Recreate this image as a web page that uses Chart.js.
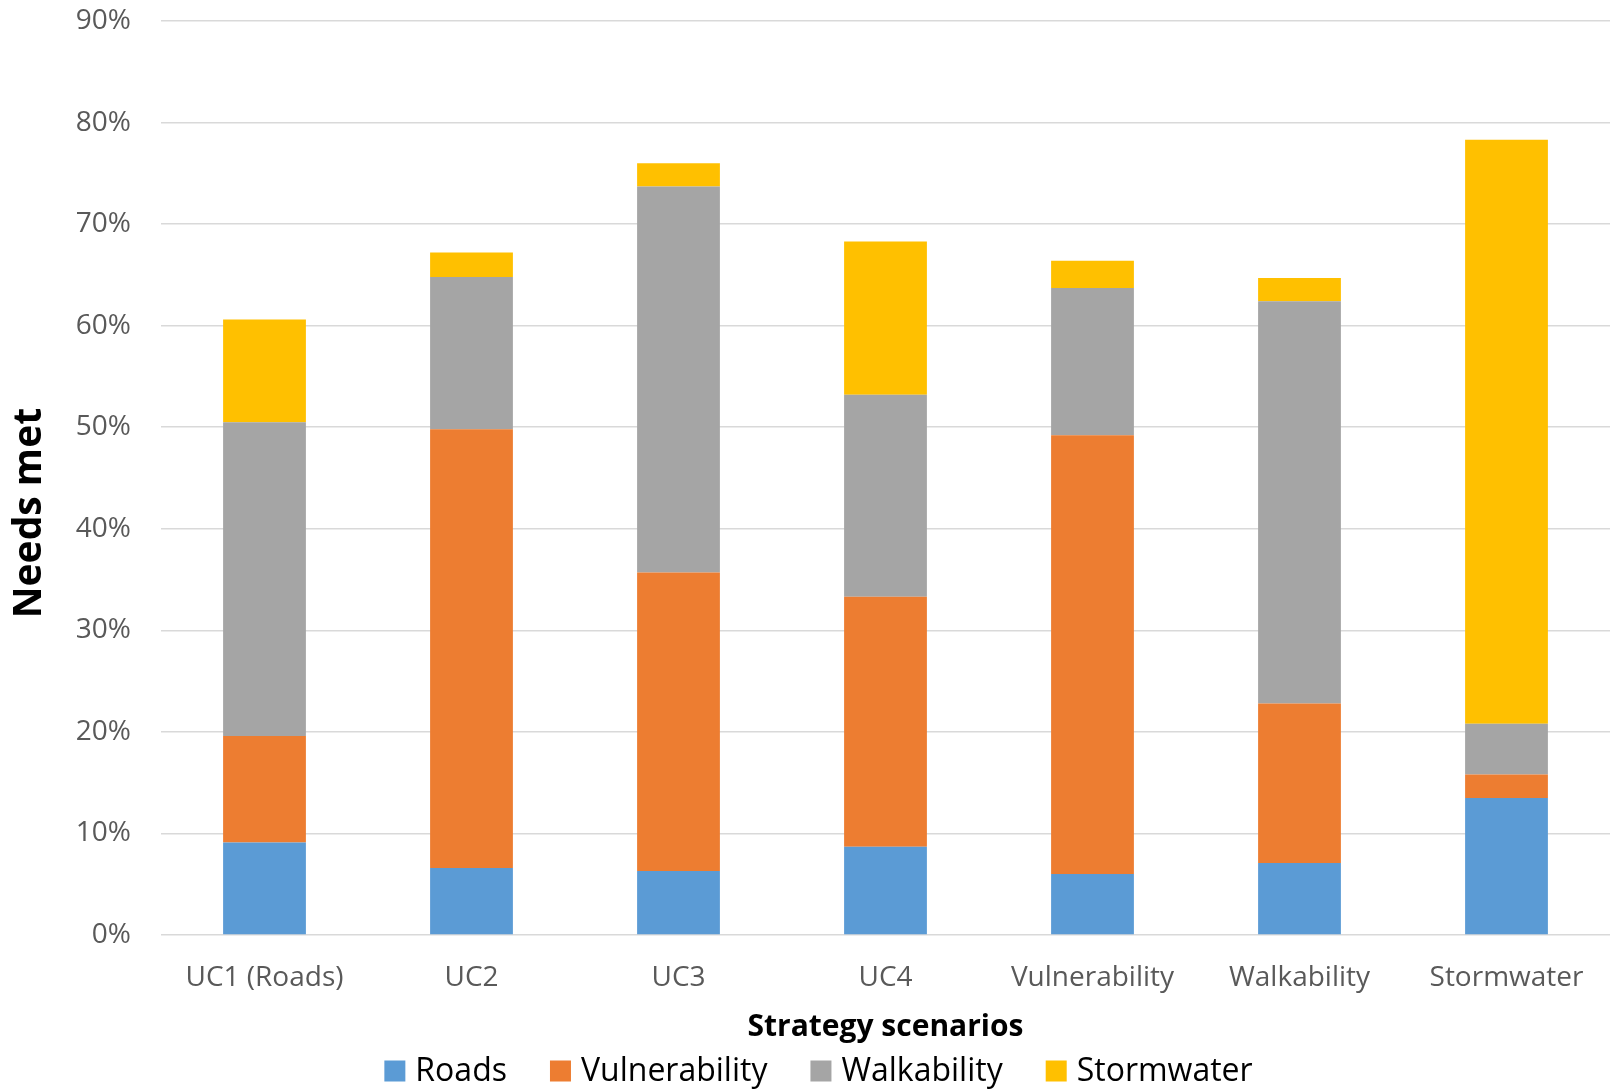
<!DOCTYPE html>
<html>
<head>
<meta charset="utf-8">
<title>Needs met by strategy scenario</title>
<script src="https://cdn.jsdelivr.net/npm/chart.js@4.4.1/dist/chart.umd.min.js"></script>
<style>
  html, body { margin: 0; padding: 0; background: #ffffff; }
  #wrap { width: 1610px; height: 1089px; position: relative; }
  canvas { display: block; }
</style>
</head>
<body>
<div id="wrap"><canvas id="chart" width="1610" height="1089"></canvas></div>
<script>
// Strategy scenarios on the category axis
const scenarios = ['UC1 (Roads)', 'UC2', 'UC3', 'UC4', 'Vulnerability', 'Walkability', 'Stormwater'];

// Share of needs met (%) per need, stacked per scenario
const roads         = [9.1,  6.6,  6.3,  8.7,  6.0,  7.1, 13.5];
const vulnerability = [10.5, 43.2, 29.4, 24.6, 43.2, 15.7, 2.3];
const walkability   = [30.9, 15.0, 38.0, 19.9, 14.5, 39.6, 5.0];
const stormwater    = [10.1, 2.4,  2.3,  15.1, 2.7,  2.3, 57.5];

// Value axis ticks (%)
const yTicks = [0, 10, 20, 30, 40, 50, 60, 70, 80, 90];

const FONT = '"Open Sans", "Noto Sans", sans-serif';
const TICK_COLOR = '#595959';
const GRID_COLOR = '#D9D9D9';

// Axis titles drawn on the canvas
const axisTitles = {
  id: 'axisTitles',
  afterDraw(chart) {
    const ctx = chart.ctx;
    const area = chart.chartArea;
    ctx.save();
    ctx.fillStyle = '#000000';
    ctx.textAlign = 'center';
    ctx.textBaseline = 'middle';
    // value axis title
    ctx.font = 'bold 39px ' + FONT;
    ctx.translate(30, 513);
    ctx.rotate(-Math.PI / 2);
    ctx.fillText('Needs met', 0, 0);
    ctx.setTransform(1, 0, 0, 1, 0, 0);
    // category axis title
    ctx.font = 'bold 30px ' + FONT;
    ctx.fillText('Strategy scenarios', (area.left + area.right) / 2, 1027);
    ctx.restore();
  }
};

// Legend row under the axis title: square swatch + series name
const seriesLegend = {
  id: 'seriesLegend',
  afterDraw(chart) {
    const ctx = chart.ctx;
    const box = 21, textGap = 10, itemGap = 43, yMid = 1071;
    ctx.save();
    ctx.font = '32px ' + FONT;
    ctx.textBaseline = 'middle';
    ctx.textAlign = 'left';
    const items = chart.data.datasets.map(d => ({
      text: d.label,
      color: d.backgroundColor,
      w: ctx.measureText(d.label).width
    }));
    const total = items.reduce((s, it) => s + box + textGap + it.w, 0) + itemGap * (items.length - 1);
    let x = 818.5 - total / 2;
    items.forEach(it => {
      ctx.fillStyle = it.color;
      ctx.fillRect(x, yMid - box / 2, box, box);
      x += box + textGap;
      ctx.fillStyle = '#000000';
      ctx.fillText(it.text, x, yMid + 1);
      x += it.w + itemGap;
    });
    ctx.restore();
  }
};

const ctx = document.getElementById('chart').getContext('2d');
new Chart(ctx, {
  type: 'bar',
  data: {
    labels: scenarios,
    datasets: [
      { label: 'Roads',         data: roads,         backgroundColor: '#5B9BD5' },
      { label: 'Vulnerability', data: vulnerability, backgroundColor: '#ED7D31' },
      { label: 'Walkability',   data: walkability,   backgroundColor: '#A5A5A5' },
      { label: 'Stormwater',    data: stormwater,    backgroundColor: '#FFC000' }
    ]
  },
  options: {
    responsive: false,
    animation: false,
    devicePixelRatio: 1,
    layout: { padding: { top: 21, left: 0, right: 0, bottom: 0 } },
    datasets: {
      bar: { categoryPercentage: 1.0, barPercentage: 0.4, borderWidth: 0 }
    },
    plugins: {
      legend: { display: false },
      tooltip: { enabled: false }
    },
    scales: {
      x: {
        stacked: true,
        grid: { display: false, drawTicks: false },
        border: { display: false },
        ticks: {
          color: TICK_COLOR,
          font: { family: FONT, size: 28 },
          padding: 26,
          maxRotation: 0,
          autoSkip: false
        },
        afterFit(scale) {
          scale.height = 154;
          scale.paddingLeft = 0;
          scale.paddingRight = 0;
        }
      },
      y: {
        stacked: true,
        min: 0,
        max: 90,
        afterBuildTicks(scale) { scale.ticks = yTicks.map(v => ({ value: v })); },
        grid: { color: GRID_COLOR, lineWidth: 1.5, drawTicks: false },
        border: { display: false },
        ticks: {
          color: TICK_COLOR,
          font: { family: FONT, size: 28 },
          padding: 30,
          callback: v => v + '%'
        },
        afterFit(scale) {
          scale.width = 161;
          scale.paddingTop = 0;
          scale.paddingBottom = 0;
        }
      }
    }
  },
  plugins: [axisTitles, seriesLegend]
});
</script>
</body>
</html>
